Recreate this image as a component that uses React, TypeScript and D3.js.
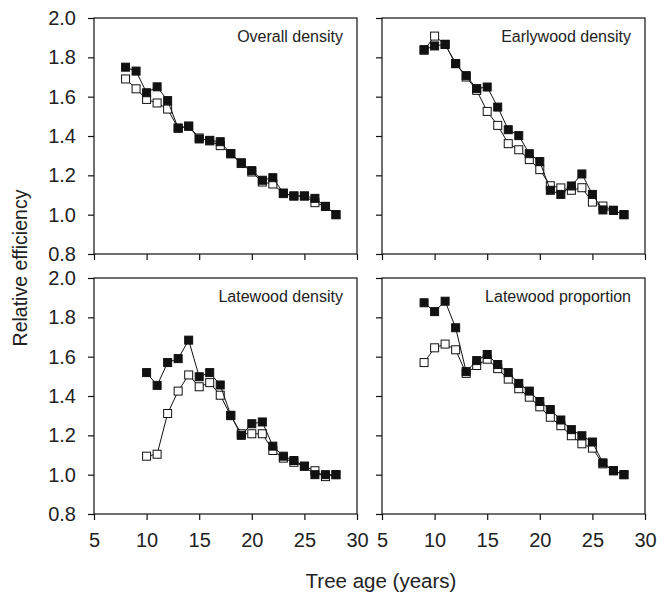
import React, { useEffect, useRef } from "react";
import * as d3 from "d3";

// tree ages (x) for each panel
const agesOverall = [8, 9, 10, 11, 12, 13, 14, 15, 16, 17, 18, 19, 20, 21, 22, 23, 24, 25, 26, 27, 28];
const agesFrom9 = [9, 10, 11, 12, 13, 14, 15, 16, 17, 18, 19, 20, 21, 22, 23, 24, 25, 26, 27, 28];
const agesFrom10 = [10, 11, 12, 13, 14, 15, 16, 17, 18, 19, 20, 21, 22, 23, 24, 25, 26, 27, 28];

// Overall density
const overallFilled = [1.75, 1.73, 1.62, 1.65, 1.58, 1.44, 1.45, 1.385, 1.378, 1.371, 1.31, 1.264, 1.224, 1.175, 1.188, 1.11, 1.095, 1.095, 1.083, 1.042, 1.0];
const overallOpen = [1.69, 1.64, 1.586, 1.568, 1.537, 1.44, 1.45, 1.39, 1.375, 1.351, 1.31, 1.26, 1.217, 1.166, 1.156, 1.107, 1.095, 1.095, 1.061, 1.042, 1.0];

// Earlywood density
const earlyFilled = [1.839, 1.858, 1.866, 1.768, 1.707, 1.641, 1.649, 1.547, 1.432, 1.402, 1.31, 1.27, 1.124, 1.103, 1.146, 1.207, 1.103, 1.024, 1.022, 1.0];
const earlyOpen = [1.836, 1.908, 1.866, 1.768, 1.70, 1.632, 1.525, 1.454, 1.361, 1.33, 1.28, 1.229, 1.147, 1.136, 1.124, 1.137, 1.064, 1.044, 1.022, 1.0];

// Latewood density
const lateFilled = [1.519, 1.454, 1.57, 1.59, 1.684, 1.498, 1.519, 1.456, 1.302, 1.2, 1.259, 1.268, 1.145, 1.094, 1.072, 1.043, 1.0, 1.0, 1.0];
const lateOpen = [1.094, 1.104, 1.311, 1.425, 1.507, 1.447, 1.468, 1.404, 1.30, 1.208, 1.208, 1.208, 1.123, 1.084, 1.063, 1.043, 1.02, 0.99, 1.0];

// Latewood proportion
const propFilled = [1.874, 1.829, 1.882, 1.747, 1.524, 1.58, 1.611, 1.56, 1.519, 1.464, 1.425, 1.372, 1.331, 1.278, 1.229, 1.198, 1.166, 1.06, 1.02, 1.0];
const propOpen = [1.57, 1.645, 1.664, 1.635, 1.515, 1.555, 1.587, 1.539, 1.486, 1.437, 1.394, 1.345, 1.292, 1.249, 1.198, 1.157, 1.135, 1.055, 1.02, 1.0];

const xTicks = [5, 10, 15, 20, 25, 30];
const yTicks = [0.8, 1.0, 1.2, 1.4, 1.6, 1.8, 2.0];

const panels = [
  { title: "Overall density", ages: agesOverall, filled: overallFilled, open: overallOpen, col: 0, row: 0 },
  { title: "Earlywood density", ages: agesFrom9, filled: earlyFilled, open: earlyOpen, col: 1, row: 0 },
  { title: "Latewood density", ages: agesFrom10, filled: lateFilled, open: lateOpen, col: 0, row: 1 },
  { title: "Latewood proportion", ages: agesFrom9, filled: propFilled, open: propOpen, col: 1, row: 1 },
];

export default function App() {
  const ref = useRef<SVGSVGElement>(null);

  useEffect(() => {
    const svg = d3.select(ref.current);
    svg.selectAll("*").remove();

    const lefts = [94, 382];
    const tops = [18, 278];
    const w = 263;
    const h = 236;
    const font = "'Liberation Sans', Arial, sans-serif";

    const x = d3.scaleLinear().domain([5, 30]).range([0, w]);
    const y = d3.scaleLinear().domain([0.8, 2.0]).range([h, 0]);

    panels.forEach((p) => {
      const g = svg
        .append("g")
        .attr("transform", `translate(${lefts[p.col]},${tops[p.row]})`);

      // Y AXIS
      const yAxis = g
        .append("g")
        .call(
          d3
            .axisLeft(y)
            .tickValues(yTicks)
            .tickSize(6)
            .tickSizeOuter(0)
            .tickPadding(12)
            .tickFormat((d) => (p.col === 0 ? d3.format(".1f")(d as number) : ""))
        );

      // X AXIS
      const xAxis = g
        .append("g")
        .attr("transform", `translate(0,${h})`)
        .call(
          d3
            .axisBottom(x)
            .tickValues(xTicks)
            .tickSize(6)
            .tickSizeOuter(0)
            .tickPadding(13)
            .tickFormat((d) => (p.row === 1 ? String(d) : ""))
        );

      [yAxis, xAxis].forEach((a) => {
        a.select(".domain").remove();
        a.selectAll("line").attr("stroke", "#111").attr("stroke-width", 1.2);
        a.selectAll("text")
          .attr("font-family", font)
          .attr("font-size", 20)
          .attr("fill", "#222");
      });

      // FRAME
      g.append("rect")
        .attr("width", w)
        .attr("height", h)
        .attr("fill", "none")
        .attr("stroke", "#111")
        .attr("stroke-width", 1.2);

      g.append("text")
        .attr("x", w - 14)
        .attr("y", 24)
        .attr("text-anchor", "end")
        .attr("font-family", font)
        .attr("font-size", 16)
        .attr("fill", "#222")
        .text(p.title);

      const line = d3
        .line<number>()
        .x((_, i) => x(p.ages[i]))
        .y((d) => y(d));

      const s = 8;
      [
        { vals: p.open, fill: "#fff" },
        { vals: p.filled, fill: "#111" },
      ].forEach((ser) => {
        g.append("path")
          .datum(ser.vals)
          .attr("fill", "none")
          .attr("stroke", "#111")
          .attr("stroke-width", 1)
          .attr("d", line);

        g.selectAll(null)
          .data(ser.vals)
          .enter()
          .append("rect")
          .attr("x", (_, i) => x(p.ages[i]) - s / 2)
          .attr("y", (d) => y(d) - s / 2)
          .attr("width", s)
          .attr("height", s)
          .attr("fill", ser.fill)
          .attr("stroke", "#111")
          .attr("stroke-width", 1);
      });
    });

    // AXIS TITLES
    svg
      .append("text")
      .attr("transform", "translate(27,268) rotate(-90)")
      .attr("text-anchor", "middle")
      .attr("font-family", font)
      .attr("font-size", 19.5)
      .attr("fill", "#222")
      .text("Relative efficiency");

    svg
      .append("text")
      .attr("x", 381)
      .attr("y", 588)
      .attr("text-anchor", "middle")
      .attr("font-family", font)
      .attr("font-size", 20.5)
      .attr("fill", "#222")
      .text("Tree age (years)");
  }, []);

  return (
    <svg
      ref={ref}
      width={670}
      height={595}
      style={{ position: "absolute", left: 0, top: 0, background: "#fff" }}
    />
  );
}
